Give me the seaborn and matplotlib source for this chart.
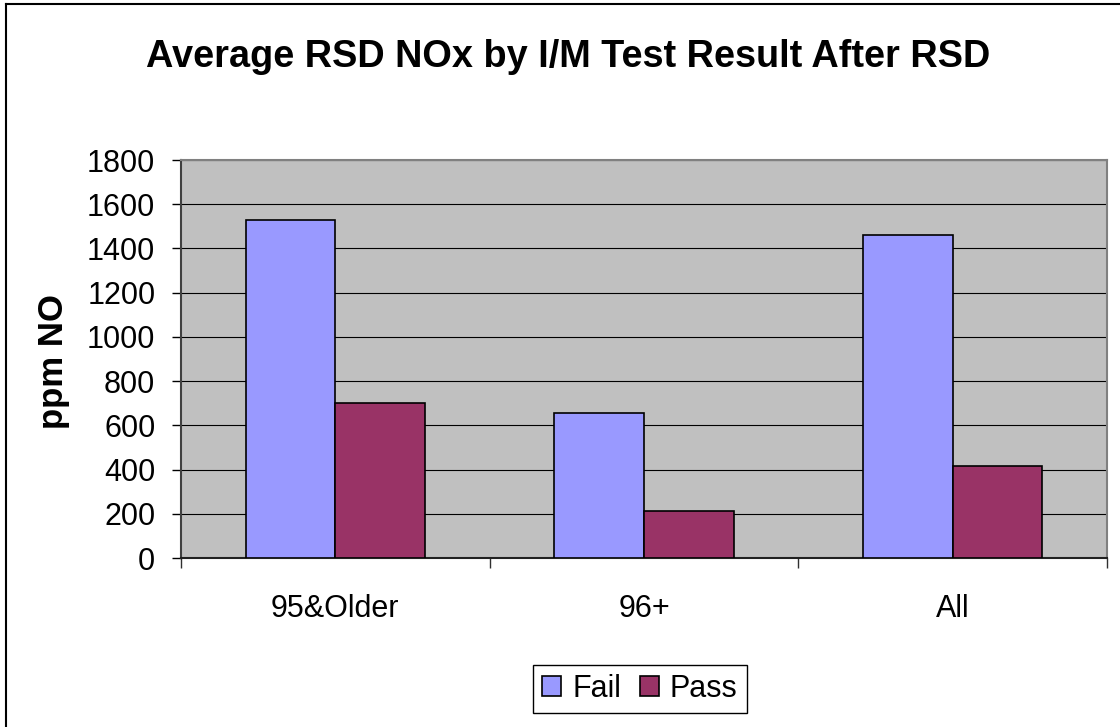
import matplotlib
matplotlib.use("Agg")
import matplotlib.pyplot as plt
import seaborn as sns
import pandas as pd
from matplotlib.lines import Line2D

# ---- data ----
categories = ["95&Older", "96+", "All"]
series_names = ["Fail", "Pass"]
fail_values = [1530, 655, 1460]
pass_values = [700, 212, 414]
y_ticks = [0, 200, 400, 600, 800, 1000, 1200, 1400, 1600, 1800]
title = "Average RSD NOx by I/M Test Result After RSD"
y_label = "ppm NO"
colors = {"Fail": "#9999FF", "Pass": "#993366"}

df = pd.DataFrame({
    "group": categories * 2,
    "value": fail_values + pass_values,
    "series": [series_names[0]] * len(categories) + [series_names[1]] * len(categories),
})

plt.rcParams["font.family"] = ["Liberation Sans", "DejaVu Sans"]

W, H = 1120, 727
fig = plt.figure(figsize=(W / 100, H / 100), dpi=100)
ax = fig.add_axes([181 / W, (H - 558) / H, 926 / W, 398 / H])
ax.set_facecolor("#C0C0C0")

sns.barplot(data=df, x="group", y="value", hue="series", palette=colors,
            saturation=1, width=0.58, gap=0, edgecolor="black", linewidth=1.2,
            ax=ax, zorder=3, errorbar=None)

ax.set_xlim(-0.5, 2.5)
ax.set_ylim(0, 1800)
ax.set_yticks(y_ticks)
ax.yaxis.grid(True, color="black", linewidth=0.8, zorder=0)
ax.xaxis.grid(False)
ax.set_axisbelow(True)

ax.set_xlabel("")
ax.set_ylabel("")

ax.tick_params(axis="y", labelsize=22, length=6.5, width=1, pad=12,
               direction="out", colors="black")
ax.tick_params(axis="x", which="major", length=0, pad=26, labelsize=22)
ax.set_xticks([-0.5, 0.5, 1.5, 2.5], minor=True)
ax.tick_params(axis="x", which="minor", length=7, width=1, color="#303030",
               direction="out")

for side in ["top", "right"]:
    ax.spines[side].set_visible(True)
    ax.spines[side].set_color("#808080")
    ax.spines[side].set_linewidth(1.5)
ax.spines["left"].set_color("#404040")
ax.spines["left"].set_linewidth(1.5)
ax.spines["bottom"].set_color("#202020")
ax.spines["bottom"].set_linewidth(1.5)

# title & y label
fig.text(568 / W, (H - 67) / H, title, ha="center", va="baseline",
         fontsize=27.3, fontweight="bold")
fig.text(54 / W, (H - 362) / H, y_label, ha="center", va="center",
         rotation=90, fontsize=25, fontweight="bold")

# legend
handles, labels = ax.get_legend_handles_labels()
if ax.get_legend() is not None:
    ax.get_legend().remove()
for h in handles:
    h.set_edgecolor("black")
    h.set_linewidth(1.2)
leg = fig.legend(handles, labels, loc="center",
                 bbox_to_anchor=(640 / W, (H - 689) / H), ncol=2,
                 frameon=True, fontsize=22, handlelength=0.62,
                 handleheight=0.62, handletextpad=0.36, columnspacing=0.62,
                 borderpad=0.3, fancybox=False, edgecolor="black",
                 framealpha=1)
leg.get_frame().set_linewidth(1.0)

# outer chart border (left and top visible)
fig.add_artist(Line2D([6 / W, 6 / W], [0, (H - 4) / H], color="black",
                      linewidth=1.5, transform=fig.transFigure))
fig.add_artist(Line2D([6 / W, 1], [(H - 4) / H, (H - 4) / H], color="black",
                      linewidth=1.5, transform=fig.transFigure))

fig.savefig("out.png", dpi=100)
